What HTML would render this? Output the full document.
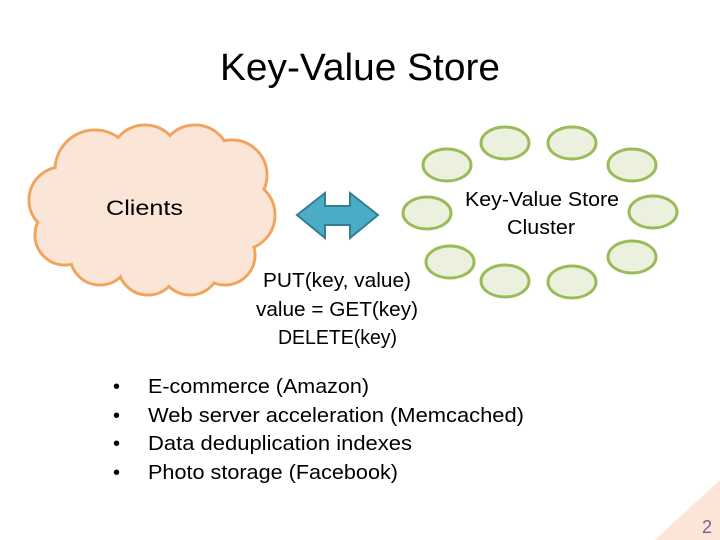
<!DOCTYPE html>
<html><head><style>html,body{margin:0;padding:0;background:#fff}svg{display:block}</style></head>
<body>
<svg width="720" height="540" viewBox="0 0 720 540" xmlns="http://www.w3.org/2000/svg" font-family="Liberation Sans, sans-serif">
<polygon points="720,480 720,540 655,540" fill="#fce4d6"/>
<text x="702" y="533" font-size="18" fill="#7f5f8f">2</text>
<text x="220" y="80" font-size="38" textLength="280" lengthAdjust="spacingAndGlyphs">Key-Value Store</text>
<!-- cloud -->
<g stroke="#f0a45c" stroke-width="3" fill="#fbe5d6">
<circle cx="95" cy="170" r="40"/><circle cx="145" cy="160" r="35"/><circle cx="195" cy="160" r="35"/>
<circle cx="232" cy="175" r="35"/><circle cx="240" cy="215" r="35"/><circle cx="225" cy="255" r="30"/>
<circle cx="190" cy="265" r="30"/><circle cx="148" cy="265" r="30"/><circle cx="100" cy="255" r="30"/>
<circle cx="65" cy="235" r="30"/><circle cx="62" cy="200" r="33"/>
</g>
<g fill="#fbe5d6">
<circle cx="95" cy="170" r="38.5"/><circle cx="145" cy="160" r="33.5"/><circle cx="195" cy="160" r="33.5"/>
<circle cx="232" cy="175" r="33.5"/><circle cx="240" cy="215" r="33.5"/><circle cx="225" cy="255" r="28.5"/>
<circle cx="190" cy="265" r="28.5"/><circle cx="148" cy="265" r="28.5"/><circle cx="100" cy="255" r="28.5"/>
<circle cx="65" cy="235" r="28.5"/><circle cx="62" cy="200" r="31.5"/>
<ellipse cx="150" cy="215" rx="95" ry="55"/>
</g>
<text x="106" y="215" font-size="21" textLength="77" lengthAdjust="spacingAndGlyphs">Clients</text>
<!-- arrow -->
<polygon points="297,215 325,193 325,206 350,206 350,193 378,215 350,238 350,225 325,225 325,238" fill="#4bacc6" stroke="#357d91" stroke-width="2"/>
<!-- cluster -->
<g fill="#ebf1de" stroke="#9bbb59" stroke-width="3">
<ellipse cx="505" cy="143" rx="24" ry="16"/><ellipse cx="572" cy="143" rx="24" ry="16"/>
<ellipse cx="447" cy="165" rx="24" ry="16"/><ellipse cx="632" cy="165" rx="24" ry="16"/>
<ellipse cx="427" cy="213" rx="24" ry="16"/><ellipse cx="653" cy="212" rx="24" ry="16"/>
<ellipse cx="450" cy="262" rx="24" ry="16"/><ellipse cx="632" cy="257" rx="24" ry="16"/>
<ellipse cx="505" cy="281" rx="24" ry="16"/><ellipse cx="572" cy="282" rx="24" ry="16"/>
</g>
<text x="465" y="206" font-size="20" textLength="154" lengthAdjust="spacingAndGlyphs">Key-Value Store</text>
<text x="507" y="234" font-size="20" textLength="68" lengthAdjust="spacingAndGlyphs">Cluster</text>
<text x="263" y="287" font-size="20" textLength="148" lengthAdjust="spacingAndGlyphs">PUT(key, value)</text>
<text x="256" y="316" font-size="20" textLength="162" lengthAdjust="spacingAndGlyphs">value = GET(key)</text>
<text x="278" y="344" font-size="20" textLength="119" lengthAdjust="spacingAndGlyphs">DELETE(key)</text>
<g font-size="20">
<text x="113" y="393">•</text><text x="113" y="422">•</text><text x="113" y="450">•</text><text x="113" y="479">•</text>
<text x="148" y="393" textLength="221" lengthAdjust="spacingAndGlyphs">E-commerce (Amazon)</text>
<text x="148" y="422" textLength="376" lengthAdjust="spacingAndGlyphs">Web server acceleration (Memcached)</text>
<text x="148" y="450" textLength="264" lengthAdjust="spacingAndGlyphs">Data deduplication indexes</text>
<text x="148" y="479" textLength="250" lengthAdjust="spacingAndGlyphs">Photo storage (Facebook)</text>
</g>
</svg>
</body></html>
